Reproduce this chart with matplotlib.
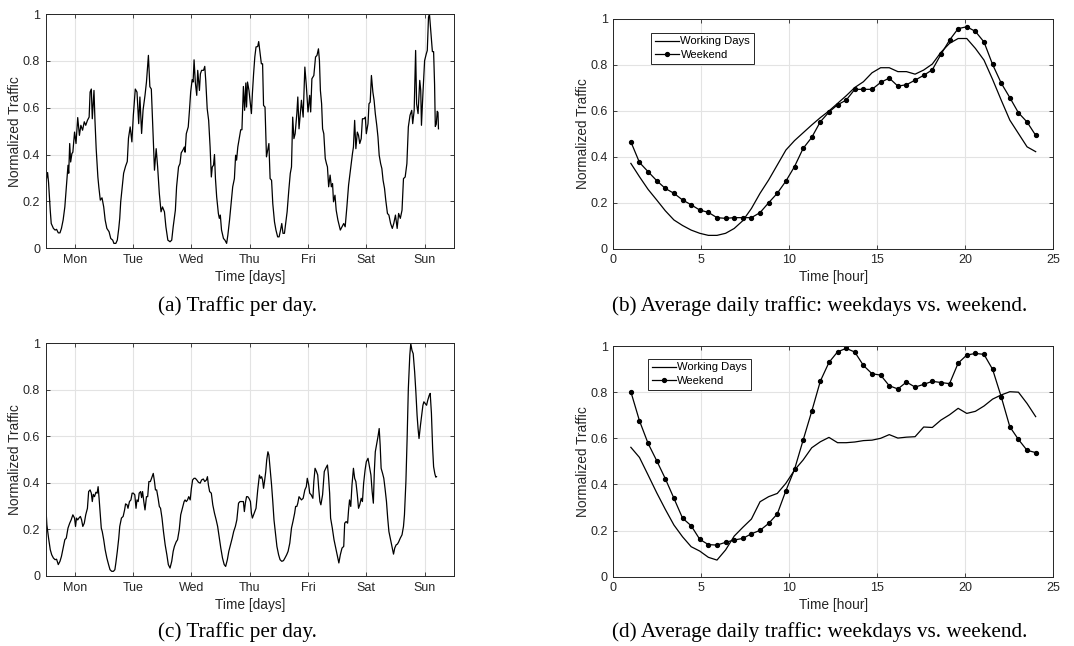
"""
Traffic per day and average daily traffic (weekdays vs. weekend), 2x2 panels
"""

import numpy as np
import matplotlib
matplotlib.use("Agg")
import matplotlib.pyplot as plt
from matplotlib.ticker import FormatStrFormatter

# ---- (a) traffic per day, first area: (hour, normalized traffic)
hours_a = [
    0, 0.8, 1.2, 1.9, 2.3, 3.2, 3.9, 4.5, 5.2, 5.9, 6.5, 7.2, 7.9, 8.5, 9.2, 9.5, 9.9, 10.3, 10.8, 11.2,
    11.9, 12.5, 13.2, 13.9, 14.5, 15.2, 15.9, 16.5, 17.2, 17.9, 18.3, 18.8, 19.2, 19.9, 20.3, 20.8, 21.5,
    21.9, 22.5, 23.2, 23.9, 24.5, 25.2, 26.1, 26.8, 27.6, 28.1, 28.9, 29.5, 30.1, 30.5, 30.9, 31.6, 32.1,
    32.9, 33.6, 34.1, 34.8, 35.5, 36.1, 36.9, 37.6, 38.3, 38.8, 39.5, 40.1, 40.9, 41.5, 42.3, 42.9, 43.5,
    44.1, 44.8, 45.5, 46.1, 46.8, 47.5, 48.1, 48.9, 49.5, 50.3, 51.2, 51.9, 52.5,
    53.4, 53.9, 54.7, 55.3, 55.8, 56.6, 57.1, 57.4, 57.9, 58.7, 59.2, 59.7, 60.3, 60.7, 61.1, 61.6, 62.2,
    62.6, 63.3, 63.7, 64.2, 65.0, 65.5, 65.9, 66.5, 67.1, 67.7, 68.2, 68.6, 69.1, 69.5, 69.9, 70.4, 71.1,
    71.5, 71.9, 72.4, 73.2, 73.8, 74.5, 75.0, 75.7, 76.4, 77.0, 77.7, 78.2, 78.6, 79.1, 79.8, 80.3, 80.8,
    81.4, 81.9, 82.4, 82.7, 83.1, 83.7, 84.7, 85.1, 85.6, 86.1, 86.6, 87.3, 87.7, 88.2, 88.8, 89.3, 89.7,
    90.3, 90.9, 91.4, 91.9, 92.4, 93.0, 93.5, 94.2, 94.8, 95.5, 96.1, 96.7, 97.2, 97.7, 98.3, 98.8, 99.4,
    100.1, 100.7, 101.2, 101.7, 102.2, 102.7, 103.4, 103.8, 104.3,
    105.3, 106.0, 106.7, 107.3, 108.0, 108.7, 109.1, 109.6, 110.4, 111.1, 111.7, 112.3, 112.7, 113.1,
    113.6, 114.0, 114.5, 115.1, 115.6, 116.0, 116.5, 117.1, 117.6, 118.1, 118.5, 119.1, 119.6, 120.3,
    120.8, 121.3, 122.0, 122.7, 123.3, 124.0, 124.7, 125.6, 126.3, 126.7, 127.2, 127.7, 128.3, 128.8,
    129.3, 129.9, 130.4, 131.1, 131.6, 132.0, 132.7, 133.1, 133.6, 134.1, 134.7, 135.2, 135.7, 136.3,
    136.8, 137.3, 137.9, 138.4, 138.9, 139.5, 140.0, 140.7, 141.3, 142.0, 142.7, 143.3, 144.0, 144.7,
    145.3, 146.0, 146.7, 147.3, 148.0, 148.7, 149.3, 150.0, 150.7, 151.1, 151.7, 152.3, 152.7, 153.3,
    154.0, 154.4, 154.7, 155.3, 156.0, 156.7, 157.1, 157.6, 158.0, 158.6, 159.2, 159.7, 160.1, 160.4,
    160.8, 161.2, 161.5, 161.7,
]
traffic_a = [
    0.276, 0.323, 0.28, 0.16, 0.105, 0.084, 0.077, 0.08, 0.065, 0.065, 0.084, 0.12, 0.176, 0.26, 0.354,
    0.32, 0.447, 0.368, 0.404, 0.41, 0.496, 0.447, 0.558, 0.482, 0.525, 0.504, 0.54, 0.525, 0.546, 0.56,
    0.667, 0.68, 0.553, 0.674, 0.546, 0.425, 0.304, 0.26, 0.205, 0.215, 0.176, 0.12, 0.084, 0.07, 0.041,
    0.034, 0.02, 0.02, 0.034, 0.084, 0.127, 0.198, 0.27, 0.32, 0.35, 0.37, 0.47, 0.518, 0.454, 0.568, 0.68,
    0.667, 0.532, 0.646, 0.49, 0.59, 0.653, 0.71, 0.824, 0.69, 0.68, 0.518, 0.333, 0.425, 0.347, 0.233,
    0.155, 0.176, 0.155, 0.091, 0.034, 0.027, 0.034, 0.091,
    0.162, 0.262, 0.347, 0.361, 0.407, 0.421, 0.432, 0.41, 0.489, 0.518, 0.589, 0.667, 0.72, 0.71, 0.805,
    0.71, 0.653, 0.76, 0.674, 0.745, 0.76, 0.76, 0.777, 0.717, 0.596, 0.546, 0.432, 0.304, 0.347, 0.354,
    0.4, 0.297, 0.219, 0.148, 0.127, 0.141, 0.077, 0.041, 0.034, 0.02, 0.055, 0.12, 0.198, 0.262, 0.297,
    0.397, 0.376, 0.432, 0.475, 0.506, 0.506, 0.691, 0.589, 0.706, 0.603, 0.71, 0.674, 0.575, 0.66, 0.745,
    0.817, 0.86, 0.862, 0.883, 0.838, 0.788, 0.788, 0.61, 0.603, 0.39, 0.418, 0.447, 0.297, 0.29, 0.19,
    0.112, 0.077, 0.048, 0.048, 0.077, 0.105, 0.063, 0.063, 0.105, 0.155, 0.248, 0.319, 0.347, 0.56,
    0.468, 0.489, 0.575, 0.646, 0.51,
    0.632, 0.56, 0.774, 0.696, 0.582, 0.653, 0.582, 0.724, 0.738, 0.817, 0.824, 0.852, 0.802, 0.674,
    0.617, 0.51, 0.489, 0.383, 0.361, 0.347, 0.262, 0.312, 0.262, 0.276, 0.198, 0.226, 0.162, 0.12,
    0.098, 0.077, 0.091, 0.105, 0.091, 0.176, 0.269, 0.347, 0.404, 0.432, 0.546, 0.425, 0.496, 0.482,
    0.447, 0.468, 0.553, 0.553, 0.56, 0.489, 0.532, 0.617, 0.624, 0.738, 0.667, 0.632, 0.575, 0.525,
    0.475, 0.397, 0.361, 0.34, 0.29, 0.255, 0.205, 0.148, 0.141, 0.105, 0.084, 0.105, 0.141, 0.084,
    0.148, 0.127, 0.162, 0.297, 0.304, 0.361, 0.518, 0.568, 0.589, 0.532, 0.589, 0.845, 0.617, 0.575,
    0.717, 0.674, 0.525, 0.66, 0.802, 0.831, 0.845, 0.987, 1.0, 0.92, 0.84, 0.84, 0.70, 0.52,
    0.53, 0.585, 0.58, 0.51,
]

# ---- (c) traffic per day, second area
hours_c = [
    0, 0.5, 1.2, 1.9, 2.5, 3.2, 3.9, 4.5, 5.2, 5.9, 6.5, 7.2, 7.9, 8.5, 9.2, 9.9, 10.5, 11.2, 11.9, 12.3,
    12.7, 13.2, 13.7, 14.3, 14.8, 15.3, 15.9, 16.5, 17.2, 17.7, 18.3, 18.8, 19.2, 19.6, 20.1, 20.7, 21.2,
    21.6, 22.0, 22.5, 22.9, 23.3, 23.9, 24.5, 25.2, 25.9, 26.5, 27.2, 27.9, 28.5, 28.9, 29.5, 30.1, 30.5,
    31.2, 31.9, 32.5, 32.9, 33.5, 33.9, 34.5, 35.1, 35.6, 36.1, 36.7, 37.2, 37.6, 38.1, 38.5, 39.1, 39.5,
    39.9, 40.4, 40.9, 41.5, 42.0, 42.5, 43.1, 43.6, 44.3, 44.8, 45.2, 45.7, 46.3, 46.8, 47.3, 47.9, 48.5,
    49.2, 49.9, 50.5, 51.2, 51.9, 52.5,
    53.0, 53.7, 54.3, 55.0, 55.6, 56.3, 57.0, 57.4, 57.9, 58.4, 58.9, 59.5, 60.0, 60.5, 61.1, 61.6, 62.2,
    62.9, 63.6, 64.2, 64.9, 65.5, 66.2, 66.6, 67.0, 67.5, 68.2, 68.8, 69.5, 70.2, 70.8, 71.5, 72.1, 72.8,
    73.5, 74.1, 74.8, 75.4, 76.1, 76.8, 77.4, 78.1, 78.7, 79.4, 80.0, 80.7, 81.4, 81.8, 82.2, 82.7, 83.2,
    83.7, 84.3, 84.7, 85.1, 85.6, 86.1, 86.6, 87.3, 88.0, 88.5, 88.9, 89.3, 89.7, 90.1, 90.6, 91.0, 91.5,
    91.9, 92.4, 93.0, 93.5, 94.0, 94.6, 95.2, 95.9, 96.5, 97.2, 97.9, 98.5, 99.2, 99.8, 100.5, 101.2,
    101.8, 102.5, 102.9, 103.4, 103.8, 104.3,
    105.3, 106.0, 106.7, 107.3, 107.7, 108.3, 108.7, 109.3, 110.0, 110.4, 110.9, 111.5, 112.0, 112.4,
    112.9, 113.3, 114.0, 114.7, 115.3, 116.0, 116.4, 116.9, 117.3, 118.0, 118.7, 119.3, 120.0, 120.7,
    121.3, 122.0, 122.7, 123.1, 123.7, 124.3, 124.7, 125.1, 125.6, 126.1, 126.7, 127.2, 127.7, 128.3,
    128.8, 129.3, 129.9, 130.4, 130.9, 131.5, 132.0, 132.7, 133.3, 133.9, 134.4, 134.9, 135.3, 135.7,
    136.3, 136.8, 137.3, 137.7, 138.1, 138.7, 139.2, 139.7, 140.3, 140.8, 141.3, 142.0, 142.7, 143.2,
    143.7, 144.3, 144.8, 145.3, 146.0, 146.7, 147.3, 147.7, 148.3, 148.8, 149.3, 149.9, 150.3, 150.8,
    151.3, 151.9, 152.4, 152.9, 153.3, 153.7, 154.3, 154.8, 155.3, 155.7, 156.3, 156.8, 157.3, 157.9,
    158.3, 158.8, 159.3, 159.7, 160.2, 160.6, 160.9,
]
traffic_c = [
    0.313, 0.22, 0.163, 0.113, 0.091, 0.077, 0.07, 0.072, 0.049, 0.063, 0.084, 0.12, 0.156, 0.163, 0.206,
    0.227, 0.241, 0.263, 0.249, 0.213, 0.249, 0.241, 0.249, 0.256, 0.241, 0.213, 0.227, 0.263, 0.291,
    0.363, 0.37, 0.356, 0.32, 0.351, 0.341, 0.36, 0.356, 0.384, 0.334, 0.263, 0.206, 0.191, 0.156, 0.113,
    0.077, 0.049, 0.027, 0.02, 0.02, 0.027, 0.056, 0.106, 0.163, 0.213, 0.249, 0.256, 0.284, 0.31, 0.306,
    0.291, 0.32, 0.327, 0.356, 0.356, 0.349, 0.291, 0.327, 0.32, 0.356, 0.363, 0.337, 0.363, 0.32, 0.284,
    0.341, 0.341, 0.406, 0.406, 0.42, 0.441, 0.406, 0.37, 0.37, 0.334, 0.299, 0.291, 0.249, 0.191, 0.134,
    0.091, 0.049, 0.034, 0.063, 0.106,
    0.127, 0.146, 0.156, 0.199, 0.263, 0.291, 0.32, 0.327, 0.32, 0.327, 0.341, 0.327, 0.377, 0.413, 0.42,
    0.42, 0.413, 0.403, 0.399, 0.413, 0.417, 0.406, 0.413, 0.427, 0.391, 0.363, 0.356, 0.306, 0.27, 0.241,
    0.213, 0.163, 0.12, 0.077, 0.049, 0.041, 0.07, 0.106, 0.134, 0.163, 0.191, 0.213, 0.241, 0.313, 0.32,
    0.32, 0.32, 0.277, 0.313, 0.341, 0.341, 0.334, 0.32, 0.27, 0.249, 0.263, 0.277, 0.291, 0.37, 0.434,
    0.42, 0.427, 0.413, 0.377, 0.406, 0.449, 0.499, 0.534, 0.52, 0.463, 0.391, 0.32, 0.241, 0.184, 0.127,
    0.091, 0.07, 0.063, 0.066, 0.077, 0.091, 0.106, 0.141, 0.206, 0.234, 0.27, 0.299, 0.299, 0.313, 0.341,
    0.327, 0.334, 0.37, 0.384, 0.42, 0.391, 0.356, 0.349, 0.334, 0.406, 0.463, 0.449, 0.434, 0.377, 0.32,
    0.306, 0.349, 0.449, 0.463, 0.477, 0.434, 0.356, 0.249, 0.206, 0.156, 0.127, 0.091, 0.056, 0.091,
    0.12, 0.127, 0.227, 0.234, 0.227, 0.284, 0.327, 0.299, 0.391, 0.463, 0.42, 0.406, 0.349, 0.291,
    0.306, 0.334, 0.32, 0.399, 0.456, 0.491, 0.506, 0.47, 0.434, 0.363, 0.313, 0.449, 0.534, 0.57,
    0.599, 0.634, 0.563, 0.463, 0.441, 0.42, 0.377, 0.32, 0.249, 0.191, 0.156, 0.12, 0.094, 0.12, 0.134,
    0.137, 0.146, 0.163, 0.177, 0.213, 0.263, 0.406, 0.591, 0.806, 0.949, 0.999, 0.97, 0.956, 0.877,
    0.791, 0.691, 0.634, 0.591, 0.649, 0.691, 0.734, 0.749, 0.741, 0.734, 0.756, 0.777, 0.785, 0.70,
    0.55, 0.47, 0.44, 0.425, 0.427,
]

day_labels = ["Mon", "Tue", "Wed", "Thu", "Fri", "Sat", "Sun"]

# ---- (b), (d) average daily traffic, 48 samples between hour 1 and 24
working_b = [
    0.371, 0.313, 0.258, 0.212, 0.165, 0.125, 0.101, 0.081, 0.067, 0.058, 0.058, 0.067, 0.088, 0.122,
    0.175, 0.241, 0.299, 0.364, 0.429, 0.47, 0.504, 0.538, 0.57, 0.599, 0.632, 0.665, 0.701, 0.726,
    0.765, 0.787, 0.787, 0.77, 0.77, 0.759, 0.777, 0.803, 0.854, 0.893, 0.914, 0.914, 0.871, 0.82,
    0.736, 0.646, 0.559, 0.501, 0.443, 0.422,
]
weekend_b = [
    0.465, 0.375, 0.335, 0.296, 0.262, 0.241, 0.212, 0.191, 0.168, 0.158, 0.135, 0.132, 0.135, 0.135,
    0.135, 0.157, 0.2, 0.241, 0.294, 0.357, 0.436, 0.484, 0.552, 0.594, 0.626, 0.646, 0.693, 0.693,
    0.693, 0.723, 0.742, 0.707, 0.713, 0.733, 0.754, 0.778, 0.845, 0.907, 0.957, 0.965, 0.945, 0.899,
    0.801, 0.72, 0.657, 0.591, 0.551, 0.493,
]
working_d = [
    0.561, 0.517, 0.441, 0.364, 0.292, 0.224, 0.173, 0.13, 0.111, 0.084, 0.072, 0.116, 0.176, 0.214,
    0.25, 0.325, 0.347, 0.361, 0.405, 0.462, 0.506, 0.559, 0.585, 0.604, 0.581, 0.581, 0.584, 0.59,
    0.592, 0.6, 0.616, 0.601, 0.605, 0.607, 0.649, 0.647, 0.679, 0.702, 0.73, 0.708, 0.717, 0.74,
    0.77, 0.788, 0.802, 0.8, 0.751, 0.694,
]
weekend_d = [
    0.802, 0.676, 0.578, 0.503, 0.425, 0.34, 0.254, 0.221, 0.162, 0.139, 0.137, 0.149, 0.159, 0.166,
    0.186, 0.201, 0.231, 0.272, 0.373, 0.465, 0.592, 0.717, 0.848, 0.929, 0.975, 0.99, 0.974, 0.916,
    0.88, 0.874, 0.828, 0.814, 0.844, 0.822, 0.834, 0.847, 0.842, 0.837, 0.926, 0.961, 0.968, 0.964,
    0.899, 0.78, 0.65, 0.595, 0.548, 0.538,
]
hour_of_day = np.linspace(1, 24, len(working_b))

captions = [
    "(a) Traffic per day.",
    "(b) Average daily traffic: weekdays vs. weekend.",
    "(c) Traffic per day.",
    "(d) Average daily traffic: weekdays vs. weekend.",
]

AX_COLOR = "#262626"
GRID_COLOR = "#e3e3e3"
TICK_FS = 9
LABEL_FS = 9.9
LEGEND_FS = 8.1

plt.rcParams["font.family"] = ["Liberation Sans", "DejaVu Sans"]


def style_axes(ax):
    ax.set_ylim(0, 1)
    ax.set_yticks([0, 0.2, 0.4, 0.6, 0.8, 1])
    ax.yaxis.set_major_formatter(FormatStrFormatter("%g"))
    ax.grid(True, color=GRID_COLOR, linewidth=0.8)
    ax.set_axisbelow(True)
    ax.tick_params(direction="in", length=3, width=0.6, colors=AX_COLOR,
                   top=True, right=True, labelsize=TICK_FS, pad=4)
    for s in ax.spines.values():
        s.set_color(AX_COLOR)
        s.set_linewidth(0.7)
    ax.set_ylabel("Normalized Traffic", color=AX_COLOR, fontsize=LABEL_FS, labelpad=0.5)


def plot_days(ax, hours, traffic):
    ax.plot(hours, traffic, color="black", linewidth=0.9)
    ax.set_xlim(0, 168)
    ax.set_xticks(np.arange(12, 168, 24))
    ax.set_xticklabels(day_labels)
    ax.set_xlabel("Time [days]", color=AX_COLOR, fontsize=LABEL_FS, labelpad=3)
    style_axes(ax)


def plot_hours(ax, working, weekend, anchor):
    ax.plot(hour_of_day, working, color="black", linewidth=0.9, label="Working Days")
    ax.plot(hour_of_day, weekend, color="black", linewidth=0.9, marker="o",
            markersize=2.8, label="Weekend")
    ax.set_xlim(0, 25)
    ax.set_xticks([0, 5, 10, 15, 20, 25])
    ax.set_xlabel("Time [hour]", color=AX_COLOR, fontsize=LABEL_FS, labelpad=3)
    style_axes(ax)
    leg = ax.legend(loc="upper left", bbox_to_anchor=anchor, fancybox=False, framealpha=1,
                    edgecolor=AX_COLOR, fontsize=LEGEND_FS, handlelength=2.2,
                    handletextpad=0.1, borderpad=0.35, labelspacing=0.3, borderaxespad=0)
    leg.get_frame().set_linewidth(0.7)


fig = plt.figure(figsize=(10.74, 6.46), dpi=100)
ax_a = fig.add_axes([0.0425, 0.616, 0.380, 0.362])
ax_b = fig.add_axes([0.571, 0.615, 0.4097, 0.356])
ax_c = fig.add_axes([0.0425, 0.1084, 0.380, 0.360])
ax_d = fig.add_axes([0.571, 0.1073, 0.4097, 0.357])

plot_days(ax_a, hours_a, traffic_a)
plot_hours(ax_b, working_b, weekend_b, (0.085, 0.94))
plot_days(ax_c, hours_c, traffic_c)
plot_hours(ax_d, working_d, weekend_d, (0.078, 0.946))

cap_pos = [(237, 306), (820, 306), (237, 632), (820, 632)]
for text, (px, py) in zip(captions, cap_pos):
    fig.text(px / 1074, 1 - py / 646, text, ha="center", va="center",
             family=["Liberation Serif", "DejaVu Serif"], fontsize=15.3, color="black")

fig.savefig("out.png", dpi=100)
